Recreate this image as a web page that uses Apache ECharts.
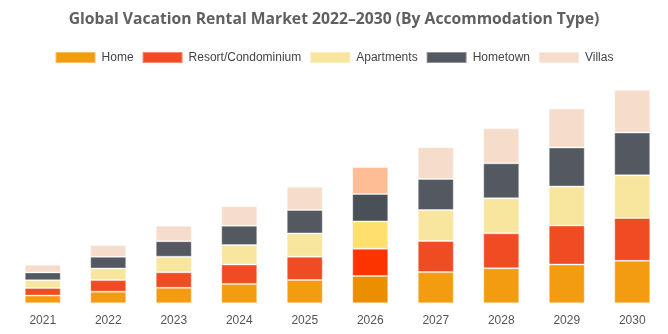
<!DOCTYPE html>
<html><head><meta charset="utf-8">
<script src="https://cdn.jsdelivr.net/npm/echarts@6/dist/echarts.min.js"></script>
<style>html,body{margin:0;padding:0;background:#fff}#c{width:668px;height:334px}</style>
</head><body><div id="c"></div>
<script>
const years = ['2021','2022','2023','2024','2025','2026','2027','2028','2029','2030'];
const home       = [7.7, 11.6, 15.5, 19.4, 23.3, 27.3, 31.2, 35.0, 38.8, 42.5];
const resort     = [7.7, 11.6, 15.5, 19.4, 23.3, 27.3, 31.1, 35.0, 39.0, 42.8];
const apartments = [7.7, 11.6, 15.6, 19.4, 23.3, 27.3, 31.0, 35.0, 39.0, 42.7];
const hometown   = [7.8, 11.7, 15.5, 19.4, 23.4, 27.4, 31.0, 35.0, 39.0, 42.7];
const villas     = [7.7, 11.7, 15.5, 19.4, 23.3, 27.0, 31.7, 35.0, 39.0, 42.8];
const seriesNames = ['Home','Resort/Condominium','Apartments','Hometown','Villas'];
const colors = ['#F39C12','#F04C23','#F8E59E','#545860','#F6DCCB'];
const highlight = ['#EB8F00','#FB3400','#FFDF6E','#4A5058','#FFBD95'];
const hlIndex = 5;

const allData = [home, resort, apartments, hometown, villas];
const chart = echarts.init(document.getElementById('c'));
chart.setOption({
  animation: false,
  title: {
    text: 'Global Vacation Rental Market 2022\u20132030 (By Accommodation Type)',
    left: 'center', top: 7,
    textStyle: {fontFamily: 'Open Sans', fontWeight: 'bold', fontSize: 15.7, color: '#606060'}
  },
  legend: {
    top: 46, left: 'center',
    itemWidth: 40, itemHeight: 11, itemGap: 8,
    icon: 'rect',
    textStyle: {fontFamily: 'Liberation Sans', fontSize: 12, color: '#444', padding: [0, 0, 0, 1]},
    data: seriesNames
  },
  grid: {left: 10, right: 3, top: 83.3, bottom: 30.7},
  xAxis: {
    type: 'category', data: years,
    axisLine: {show: false}, axisTick: {show: false},
    axisLabel: {fontFamily: 'Liberation Sans', fontSize: 12, color: '#555', margin: 11}
  },
  yAxis: {type: 'value', min: 0, max: 220, show: false, splitLine: {show: false}},
  series: allData.map((d, i) => ({
    name: seriesNames[i], type: 'bar', stack: 'total', barWidth: 36,
    itemStyle: {color: colors[i], borderColor: 'rgba(255,255,255,0.35)', borderWidth: 1},
    data: d.map((v, j) => j === hlIndex ? {value: v, itemStyle: {color: highlight[i]}} : v)
  }))
});
</script></body></html>
